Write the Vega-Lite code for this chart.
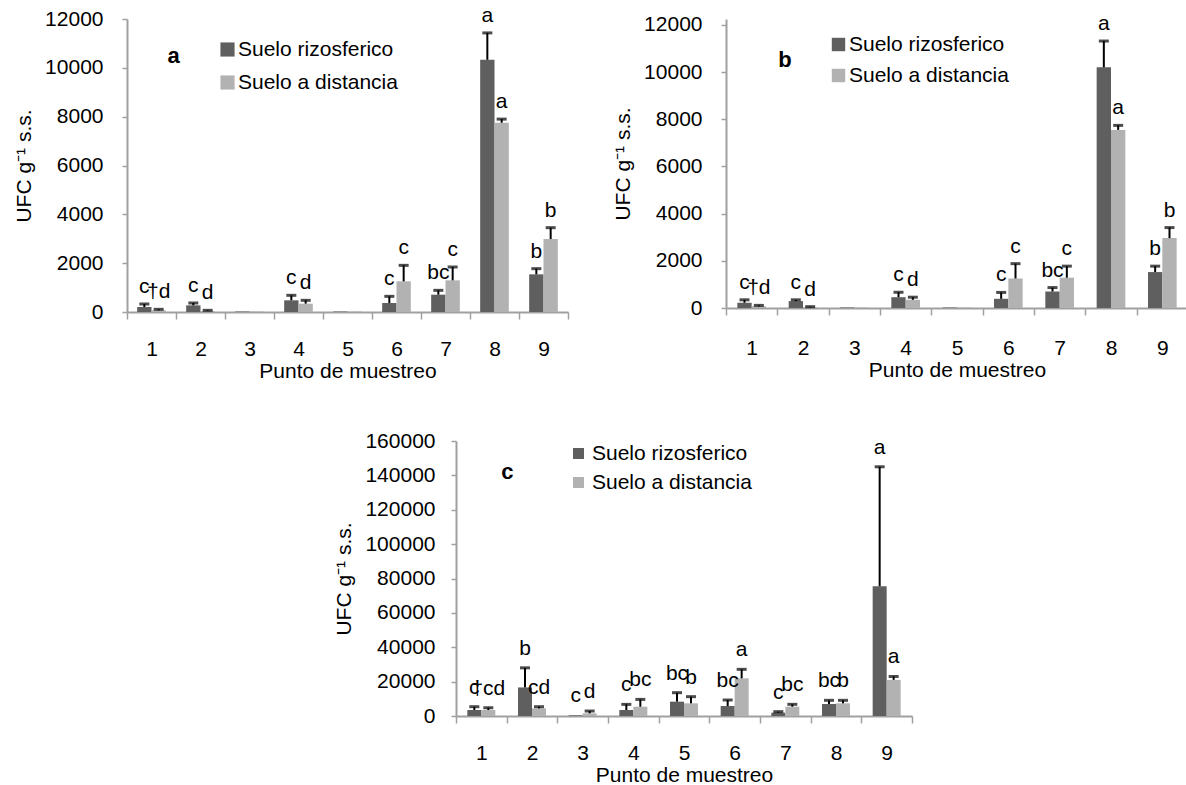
{
  "$schema": "https://vega.github.io/schema/vega-lite/v6.json",
  "padding": {"left": 13, "top": 4, "right": 0, "bottom": 0},
  "background": "white",
  "config": {
    "font": "Liberation Sans",
    "view": {"stroke": null},
    "axis": {"labelFontSize": 21, "titleFontSize": 21, "titleFontWeight": "normal", "labelColor": "black", "titleColor": "black", "domainColor": "#a0a0a0", "tickColor": "#a0a0a0", "domainWidth": 2, "tickWidth": 1.5, "grid": false},
    "legend": {"labelFontSize": 21, "labelColor": "black", "symbolType": "square", "symbolStrokeWidth": 0, "padding": 0, "offset": 0}
  },
  "datasets": {
    "a": [
      {"punto": 1, "suelo": "Suelo rizosferico", "valor": 205, "sup": 328, "letra": "c"},
      {"punto": 1, "suelo": "Suelo a distancia", "valor": 68, "sup": 109, "letra": "†d"},
      {"punto": 2, "suelo": "Suelo rizosferico", "valor": 273, "sup": 369, "letra": "c"},
      {"punto": 2, "suelo": "Suelo a distancia", "valor": 41, "sup": 68, "letra": "d"},
      {"punto": 3, "suelo": "Suelo rizosferico", "valor": 20, "sup": 20, "letra": ""},
      {"punto": 3, "suelo": "Suelo a distancia", "valor": 20, "sup": 20, "letra": ""},
      {"punto": 4, "suelo": "Suelo rizosferico", "valor": 478, "sup": 683, "letra": "c"},
      {"punto": 4, "suelo": "Suelo a distancia", "valor": 341, "sup": 478, "letra": "d"},
      {"punto": 5, "suelo": "Suelo rizosferico", "valor": 20, "sup": 20, "letra": ""},
      {"punto": 5, "suelo": "Suelo a distancia", "valor": 20, "sup": 20, "letra": ""},
      {"punto": 6, "suelo": "Suelo rizosferico", "valor": 369, "sup": 641, "letra": "c"},
      {"punto": 6, "suelo": "Suelo a distancia", "valor": 1256, "sup": 1911, "letra": "c"},
      {"punto": 7, "suelo": "Suelo rizosferico", "valor": 709, "sup": 887, "letra": "bc"},
      {"punto": 7, "suelo": "Suelo a distancia", "valor": 1297, "sup": 1843, "letra": "c"},
      {"punto": 8, "suelo": "Suelo rizosferico", "valor": 10330, "sup": 11430, "letra": "a"},
      {"punto": 8, "suelo": "Suelo a distancia", "valor": 7750, "sup": 7900, "letra": "a"},
      {"punto": 9, "suelo": "Suelo rizosferico", "valor": 1543, "sup": 1775, "letra": "b"},
      {"punto": 9, "suelo": "Suelo a distancia", "valor": 2990, "sup": 3454, "letra": "b"}
    ],
    "b": [
      {"punto": 1, "suelo": "Suelo rizosferico", "valor": 222, "sup": 347, "letra": "c"},
      {"punto": 1, "suelo": "Suelo a distancia", "valor": 69, "sup": 111, "letra": "†d"},
      {"punto": 2, "suelo": "Suelo rizosferico", "valor": 292, "sup": 347, "letra": "c"},
      {"punto": 2, "suelo": "Suelo a distancia", "valor": 30, "sup": 56, "letra": "d"},
      {"punto": 3, "suelo": "Suelo rizosferico", "valor": 20, "sup": 20, "letra": ""},
      {"punto": 3, "suelo": "Suelo a distancia", "valor": 20, "sup": 20, "letra": ""},
      {"punto": 4, "suelo": "Suelo rizosferico", "valor": 458, "sup": 667, "letra": "c"},
      {"punto": 4, "suelo": "Suelo a distancia", "valor": 347, "sup": 458, "letra": "d"},
      {"punto": 5, "suelo": "Suelo rizosferico", "valor": 20, "sup": 20, "letra": ""},
      {"punto": 5, "suelo": "Suelo a distancia", "valor": 20, "sup": 20, "letra": ""},
      {"punto": 6, "suelo": "Suelo rizosferico", "valor": 390, "sup": 660, "letra": "c"},
      {"punto": 6, "suelo": "Suelo a distancia", "valor": 1250, "sup": 1880, "letra": "c"},
      {"punto": 7, "suelo": "Suelo rizosferico", "valor": 699, "sup": 866, "letra": "bc"},
      {"punto": 7, "suelo": "Suelo a distancia", "valor": 1285, "sup": 1774, "letra": "c"},
      {"punto": 8, "suelo": "Suelo rizosferico", "valor": 10200, "sup": 11316, "letra": "a"},
      {"punto": 8, "suelo": "Suelo a distancia", "valor": 7550, "sup": 7740, "letra": "a"},
      {"punto": 9, "suelo": "Suelo rizosferico", "valor": 1523, "sup": 1774, "letra": "b"},
      {"punto": 9, "suelo": "Suelo a distancia", "valor": 2962, "sup": 3409, "letra": "b"}
    ],
    "c": [
      {"punto": 1, "suelo": "Suelo rizosferico", "valor": 3480, "sup": 5410, "letra": "c"},
      {"punto": 1, "suelo": "Suelo a distancia", "valor": 3480, "sup": 4830, "letra": "†cd"},
      {"punto": 2, "suelo": "Suelo rizosferico", "valor": 16620, "sup": 28020, "letra": "b"},
      {"punto": 2, "suelo": "Suelo a distancia", "valor": 4440, "sup": 5410, "letra": "cd"},
      {"punto": 3, "suelo": "Suelo rizosferico", "valor": 400, "sup": 400, "letra": "c"},
      {"punto": 3, "suelo": "Suelo a distancia", "valor": 1550, "sup": 2900, "letra": "d"},
      {"punto": 4, "suelo": "Suelo rizosferico", "valor": 3480, "sup": 6760, "letra": "c"},
      {"punto": 4, "suelo": "Suelo a distancia", "valor": 5410, "sup": 9660, "letra": "bc"},
      {"punto": 5, "suelo": "Suelo rizosferico", "valor": 8340, "sup": 13570, "letra": "bc"},
      {"punto": 5, "suelo": "Suelo a distancia", "valor": 7370, "sup": 11250, "letra": "b"},
      {"punto": 6, "suelo": "Suelo rizosferico", "valor": 5818, "sup": 9309, "letra": "bc"},
      {"punto": 6, "suelo": "Suelo a distancia", "valor": 21915, "sup": 27150, "letra": "a"},
      {"punto": 7, "suelo": "Suelo rizosferico", "valor": 1939, "sup": 2522, "letra": "c"},
      {"punto": 7, "suelo": "Suelo a distancia", "valor": 5430, "sup": 6790, "letra": "bc"},
      {"punto": 8, "suelo": "Suelo rizosferico", "valor": 6982, "sup": 9115, "letra": "bc"},
      {"punto": 8, "suelo": "Suelo a distancia", "valor": 7370, "sup": 9115, "letra": "b"},
      {"punto": 9, "suelo": "Suelo rizosferico", "valor": 75500, "sup": 145000, "letra": "a"},
      {"punto": 9, "suelo": "Suelo a distancia", "valor": 21000, "sup": 23000, "letra": "a"}
    ]
  },
  "resolve": {"scale": {"x": "independent", "y": "independent", "xOffset": "independent", "color": "independent"}, "legend": {"color": "independent"}},
  "spacing": 49,
  "vconcat": [
    {
      "hconcat": [
        {
          "width": 441, "height": 293,
          "data": {"name": "a"},
          "layer": [
            {"mark": {"type": "bar"},
             "encoding": {
               "x": {"field": "punto", "type": "ordinal", "scale": {"paddingInner": 0, "paddingOuter": 0}, "axis": {"title": "Punto de muestreo", "labelAngle": 0, "tickBand": "extent", "tickSize": 7, "labelPadding": 19, "titlePadding": 1}},
               "xOffset": {"field": "suelo", "type": "nominal", "sort": ["Suelo rizosferico", "Suelo a distancia"], "scale": {"paddingInner": 0, "paddingOuter": 0.71}},
               "y": {"field": "valor", "type": "quantitative", "scale": {"domain": [0, 12000], "nice": false}, "axis": {"title": "UFC g⁻¹ s.s.", "values": [0, 2000, 4000, 6000, 8000, 10000, 12000], "tickCount": 10, "labelOverlap": false, "format": "d", "tickSize": 5, "labelPadding": 19, "titlePadding": 10}},
               "color": {"field": "suelo", "type": "nominal", "sort": ["Suelo rizosferico", "Suelo a distancia"], "scale": {"domain": ["Suelo rizosferico", "Suelo a distancia"], "range": ["#5f5f5f", "#b2b2b2"]}, "legend": {"title": null, "orient": "none", "legendX": 90, "legendY": 20, "symbolSize": 200, "labelOffset": 0, "rowPadding": 11}}
             }},
            {"transform": [{"filter": "datum.sup > datum.valor"}],
             "mark": {"type": "rule", "color": "black", "strokeWidth": 2},
             "encoding": {
               "x": {"field": "punto", "type": "ordinal"},
               "xOffset": {"field": "suelo", "type": "nominal", "sort": ["Suelo rizosferico", "Suelo a distancia"]},
               "y": {"field": "valor", "type": "quantitative"},
               "y2": {"field": "sup"}
             }},
            {"transform": [{"filter": "datum.sup > datum.valor"}],
             "mark": {"type": "tick", "color": "black", "thickness": 3, "size": 10},
             "encoding": {
               "x": {"field": "punto", "type": "ordinal"},
               "xOffset": {"field": "suelo", "type": "nominal", "sort": ["Suelo rizosferico", "Suelo a distancia"]},
               "y": {"field": "sup", "type": "quantitative"}
             }},
            {"transform": [{"filter": "datum.letra != ''"}],
             "mark": {"type": "text", "fontSize": 21, "baseline": "middle", "dy": -17, "color": "black"},
             "encoding": {
               "x": {"field": "punto", "type": "ordinal"},
               "xOffset": {"field": "suelo", "type": "nominal", "sort": ["Suelo rizosferico", "Suelo a distancia"]},
               "y": {"field": "sup", "type": "quantitative"},
               "text": {"field": "letra"}
             }},
            {"data": {"values": [{"t": "a"}]},
             "mark": {"type": "text", "fontSize": 22, "fontWeight": "bold", "baseline": "middle", "dx": -27, "color": "black"},
             "encoding": {
               "x": {"datum": 2, "type": "ordinal"},
               "y": {"datum": 10500, "type": "quantitative"},
               "text": {"field": "t"}
             }}
          ]
        },
        {
          "width": 462, "height": 289,
          "data": {"name": "b"},
          "layer": [
            {"mark": {"type": "bar"},
             "encoding": {
               "x": {"field": "punto", "type": "ordinal", "scale": {"paddingInner": 0, "paddingOuter": 0}, "axis": {"title": "Punto de muestreo", "labelAngle": 0, "tickBand": "extent", "tickSize": 7, "labelPadding": 22, "titlePadding": 1}},
               "xOffset": {"field": "suelo", "type": "nominal", "sort": ["Suelo rizosferico", "Suelo a distancia"], "scale": {"paddingInner": 0, "paddingOuter": 0.79}},
               "y": {"field": "valor", "type": "quantitative", "scale": {"domain": [0, 12250], "nice": false}, "axis": {"title": "UFC g⁻¹ s.s.", "values": [0, 2000, 4000, 6000, 8000, 10000, 12000], "tickCount": 10, "labelOverlap": false, "format": "d", "tickSize": 5, "labelPadding": 19, "titlePadding": 10}},
               "color": {"field": "suelo", "type": "nominal", "sort": ["Suelo rizosferico", "Suelo a distancia"], "scale": {"domain": ["Suelo rizosferico", "Suelo a distancia"], "range": ["#5f5f5f", "#b2b2b2"]}, "legend": {"title": null, "orient": "none", "legendX": 102, "legendY": 15, "symbolSize": 180, "labelOffset": 0, "rowPadding": 9}}
             }},
            {"transform": [{"filter": "datum.sup > datum.valor"}],
             "mark": {"type": "rule", "color": "black", "strokeWidth": 2},
             "encoding": {
               "x": {"field": "punto", "type": "ordinal"},
               "xOffset": {"field": "suelo", "type": "nominal", "sort": ["Suelo rizosferico", "Suelo a distancia"]},
               "y": {"field": "valor", "type": "quantitative"},
               "y2": {"field": "sup"}
             }},
            {"transform": [{"filter": "datum.sup > datum.valor"}],
             "mark": {"type": "tick", "color": "black", "thickness": 3, "size": 10},
             "encoding": {
               "x": {"field": "punto", "type": "ordinal"},
               "xOffset": {"field": "suelo", "type": "nominal", "sort": ["Suelo rizosferico", "Suelo a distancia"]},
               "y": {"field": "sup", "type": "quantitative"}
             }},
            {"transform": [{"filter": "datum.letra != ''"}],
             "mark": {"type": "text", "fontSize": 21, "baseline": "middle", "dy": -17, "color": "black"},
             "encoding": {
               "x": {"field": "punto", "type": "ordinal"},
               "xOffset": {"field": "suelo", "type": "nominal", "sort": ["Suelo rizosferico", "Suelo a distancia"]},
               "y": {"field": "sup", "type": "quantitative"},
               "text": {"field": "letra"}
             }},
            {"data": {"values": [{"t": "b"}]},
             "mark": {"type": "text", "fontSize": 22, "fontWeight": "bold", "baseline": "middle", "dx": -18, "color": "black"},
             "encoding": {
               "x": {"datum": 2, "type": "ordinal"},
               "y": {"datum": 10500, "type": "quantitative"},
               "text": {"field": "t"}
             }}
          ]
        }
      ],
      "spacing": 43,
      "resolve": {"scale": {"x": "independent", "y": "independent", "xOffset": "independent", "color": "independent"}, "legend": {"color": "independent"}}
    },
    {
      "hconcat": [
        {
          "width": 206, "height": 10,
          "data": {"values": [{}]},
          "mark": {"type": "text"},
          "encoding": {}
        },
        {
          "width": 456, "height": 275,
          "data": {"name": "c"},
          "layer": [
            {"mark": {"type": "bar"},
             "encoding": {
               "x": {"field": "punto", "type": "ordinal", "scale": {"paddingInner": 0, "paddingOuter": 0}, "axis": {"title": "Punto de muestreo", "labelAngle": 0, "tickBand": "extent", "tickSize": 7, "labelPadding": 19, "titlePadding": 1}},
               "xOffset": {"field": "suelo", "type": "nominal", "sort": ["Suelo rizosferico", "Suelo a distancia"], "scale": {"paddingInner": 0, "paddingOuter": 0.81}},
               "y": {"field": "valor", "type": "quantitative", "scale": {"domain": [0, 160000], "nice": false}, "axis": {"title": "UFC g⁻¹ s.s.", "values": [0, 20000, 40000, 60000, 80000, 100000, 120000, 140000, 160000], "tickCount": 12, "labelOverlap": false, "format": "d", "tickSize": 5, "labelPadding": 16, "titlePadding": 10}},
               "color": {"field": "suelo", "type": "nominal", "sort": ["Suelo rizosferico", "Suelo a distancia"], "scale": {"domain": ["Suelo rizosferico", "Suelo a distancia"], "range": ["#5f5f5f", "#b2b2b2"]}, "legend": {"title": null, "orient": "none", "legendX": 112, "legendY": 2, "symbolSize": 121, "labelOffset": 3, "rowPadding": 7}}
             }},
            {"transform": [{"filter": "datum.sup > datum.valor"}],
             "mark": {"type": "rule", "color": "black", "strokeWidth": 2},
             "encoding": {
               "x": {"field": "punto", "type": "ordinal"},
               "xOffset": {"field": "suelo", "type": "nominal", "sort": ["Suelo rizosferico", "Suelo a distancia"]},
               "y": {"field": "valor", "type": "quantitative"},
               "y2": {"field": "sup"}
             }},
            {"transform": [{"filter": "datum.sup > datum.valor"}],
             "mark": {"type": "tick", "color": "black", "thickness": 3, "size": 10},
             "encoding": {
               "x": {"field": "punto", "type": "ordinal"},
               "xOffset": {"field": "suelo", "type": "nominal", "sort": ["Suelo rizosferico", "Suelo a distancia"]},
               "y": {"field": "sup", "type": "quantitative"}
             }},
            {"transform": [{"filter": "datum.letra != ''"}],
             "mark": {"type": "text", "fontSize": 21, "baseline": "middle", "dy": -19, "color": "black"},
             "encoding": {
               "x": {"field": "punto", "type": "ordinal"},
               "xOffset": {"field": "suelo", "type": "nominal", "sort": ["Suelo rizosferico", "Suelo a distancia"]},
               "y": {"field": "sup", "type": "quantitative"},
               "text": {"field": "letra"}
             }},
            {"data": {"values": [{"t": "c"}]},
             "mark": {"type": "text", "fontSize": 22, "fontWeight": "bold", "baseline": "middle", "dx": 26, "color": "black"},
             "encoding": {
               "x": {"datum": 1, "type": "ordinal"},
               "y": {"datum": 142000, "type": "quantitative"},
               "text": {"field": "t"}
             }}
          ]
        }
      ],
      "spacing": 0,
      "resolve": {"scale": {"x": "independent", "y": "independent", "xOffset": "independent", "color": "independent"}, "legend": {"color": "independent"}}
    }
  ]
}
